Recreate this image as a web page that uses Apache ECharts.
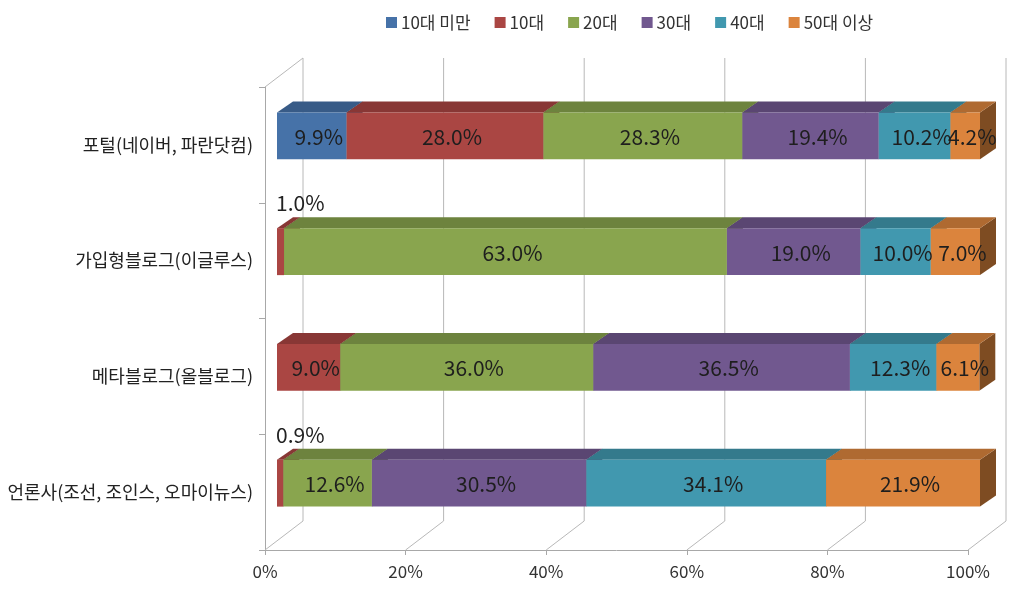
<!DOCTYPE html>
<html>
<head>
<meta charset="utf-8">
<script src="https://cdn.jsdelivr.net/npm/echarts@6/dist/echarts.min.js"></script>
<style>html,body{margin:0;padding:0;background:#fff;}#chart{width:1024px;height:592px;}</style>
</head>
<body>
<div id="chart"></div>
<script>
const categories = ['포털(네이버, 파란닷컴)', '가입형블로그(이글루스)', '메타블로그(올블로그)', '언론사(조선, 조인스, 오마이뉴스)'];
const seriesNames = ['10대 미만', '10대', '20대', '30대', '40대', '50대 이상'];
const under10 = [9.9, 0, 0, 0];
const teens = [28.0, 1.0, 9.0, 0.9];
const twenties = [28.3, 63.0, 36.0, 12.6];
const thirties = [19.4, 19.0, 36.5, 30.5];
const forties = [10.2, 10.0, 12.3, 34.1];
const fiftiesUp = [4.2, 7.0, 6.1, 21.9];
const xTicks = [0, 20, 40, 60, 80, 100];

const seriesValues = [under10, teens, twenties, thirties, forties, fiftiesUp];
const frontColors = ['#4672A8', '#AA4643', '#89A54E', '#71588F', '#4198AF', '#DB843D'];
const topColors = ['#385B87', '#883735', '#6D833E', '#5A4672', '#347A8C', '#AF6A31'];
const sideColors = ['#2A4465', '#662927', '#52622E', '#433556', '#275B69', '#7E4C22'];

// 3D geometry (styling)
const WALL_DX = 38, WALL_DY = -29;
const BAR_FX = 12, BAR_FY = -9;
const BAR_DX = 16, BAR_DY = -11;
const FONT = '"Noto Sans CJK KR", "Noto Sans", sans-serif';

// cumulative starts
const starts = seriesValues.map(() => []);
for (let c = 0; c < categories.length; c++) {
  let acc = 0;
  for (let s = 0; s < seriesValues.length; s++) {
    starts[s][c] = acc;
    acc += seriesValues[s][c];
  }
}

function barRender(si) {
  return function (params, api) {
    const cat = api.value(0), s = api.value(1), e = api.value(2), v = api.value(3);
    if (!(v > 0)) return { type: 'group', children: [] };
    const p0 = api.coord([s, cat]);
    const p1 = api.coord([e, cat]);
    const band = api.size([0, 1])[1];
    const h = band * 0.406;
    const x0 = p0[0] + BAR_FX, x1 = p1[0] + BAR_FX;
    const yc = p0[1] + BAR_FY;
    const top = yc - h / 2, bot = yc + h / 2;
    const children = [];
    children.push({
      type: 'polygon',
      shape: { points: [[x1, top], [x1 + BAR_DX, top + BAR_DY], [x1 + BAR_DX, bot + BAR_DY], [x1, bot]] },
      style: { fill: sideColors[si] }
    });
    children.push({
      type: 'polygon',
      shape: { points: [[x0, top], [x0 + BAR_DX, top + BAR_DY], [x1 + BAR_DX, top + BAR_DY], [x1, top]] },
      style: { fill: topColors[si] }
    });
    children.push({
      type: 'rect',
      shape: { x: x0, y: top, width: x1 - x0, height: h },
      style: { fill: frontColors[si] }
    });
    const label = v.toFixed(1) + '%';
    if (v < 2) {
      children.push({
        type: 'text', z2: 10,
        style: { text: label, x: x0 - 1, y: top - 25, align: 'left', verticalAlign: 'middle',
                 font: '21px ' + FONT, fill: '#222' }
      });
    } else {
      children.push({
        type: 'text', z2: 10,
        style: { text: label, x: (x0 + x1) / 2 + 7, y: yc + 1, align: 'center', verticalAlign: 'middle',
                 font: '21px ' + FONT, fill: '#1e1e1e' }
      });
    }
    return { type: 'group', children: children };
  };
}

const frameSeries = {
  type: 'custom',
  silent: true,
  clip: false,
  z: 1,
  data: xTicks.map(v => [v]),
  renderItem: function (params, api) {
    const cs = params.coordSys;
    const v = api.value(0);
    const x = api.coord([v, 0])[0];
    const yTop = cs.y, yBot = cs.y + cs.height;
    const ls = { stroke: '#b8b8b8', lineWidth: 1 };
    const ch = [
      { type: 'line', shape: { x1: x, y1: yBot, x2: x + WALL_DX, y2: yBot + WALL_DY }, style: ls },
      { type: 'line', shape: { x1: x + WALL_DX, y1: yTop + WALL_DY, x2: x + WALL_DX, y2: yBot + WALL_DY }, style: ls }
    ];
    if (v === xTicks[0]) {
      ch.push({ type: 'line', shape: { x1: x, y1: yTop, x2: x + WALL_DX, y2: yTop + WALL_DY }, style: ls });
    }
    return { type: 'group', children: ch };
  }
};

const barSeries = seriesNames.map((name, si) => ({
  name: name,
  type: 'custom',
  clip: false,
  z: 2,
  itemStyle: { color: frontColors[si] },
  encode: { x: [1, 2], y: 0 },
  data: categories.map((c, ci) => [ci, starts[si][ci], starts[si][ci] + seriesValues[si][ci], seriesValues[si][ci]]),
  renderItem: barRender(si)
}));

const chart = echarts.init(document.getElementById('chart'));
chart.setOption({
  animation: false,
  backgroundColor: '#fff',
  legend: {
    data: seriesNames,
    left: 381, top: 9,
    icon: 'rect', itemWidth: 11, itemHeight: 11, itemGap: 24,
    textStyle: { fontFamily: FONT, fontSize: 17, color: '#333', padding: [0, 0, 0, -1] }
  },
  grid: { left: 265, right: 56, top: 87, bottom: 42, containLabel: false },
  xAxis: {
    type: 'value', min: 0, max: 100, interval: 20,
    axisLine: { show: true, lineStyle: { color: '#a8a8a8' } },
    axisTick: { show: true, length: 5, lineStyle: { color: '#a8a8a8' } },
    splitLine: { show: false },
    axisLabel: { formatter: '{value}%', fontFamily: FONT, fontSize: 17, color: '#333', margin: 13 }
  },
  yAxis: {
    type: 'category', data: categories, inverse: true,
    axisLine: { show: true, lineStyle: { color: '#a8a8a8' } },
    axisTick: { show: true, length: 6, lineStyle: { color: '#a8a8a8' } },
    axisLabel: { fontFamily: FONT, fontSize: 18, color: '#222', margin: 12 }
  },
  series: [frameSeries].concat(barSeries)
});
</script>
</body>
</html>
